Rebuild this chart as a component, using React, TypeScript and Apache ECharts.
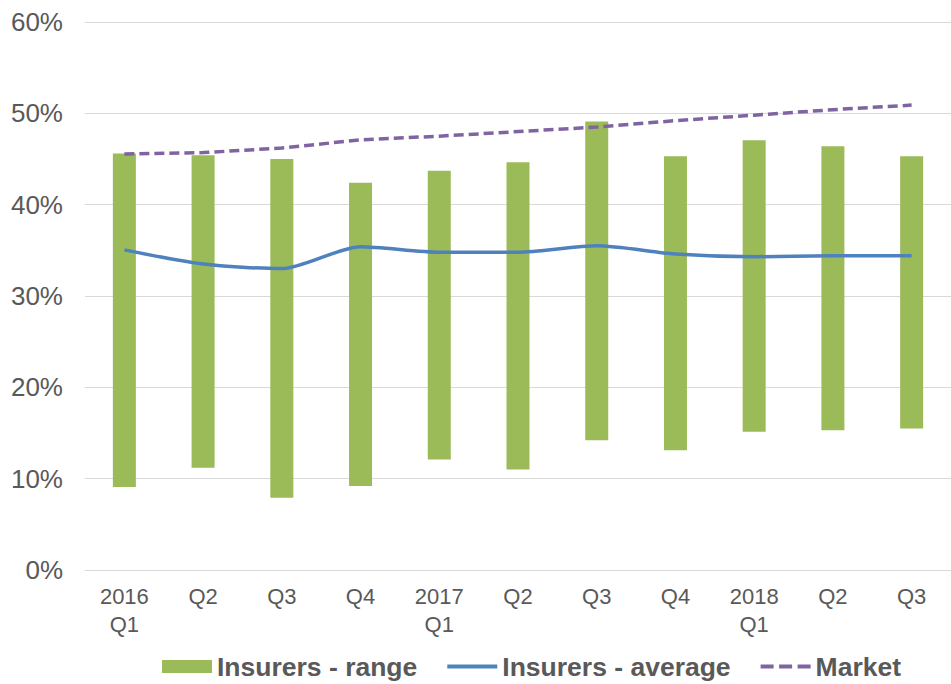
import React, { useEffect, useRef } from "react";
import * as echarts from "echarts";

const categories = ["2016\nQ1", "Q2", "Q3", "Q4", "2017\nQ1", "Q2", "Q3", "Q4", "2018\nQ1", "Q2", "Q3"];
const rangeLow = [9.1, 11.2, 7.9, 9.2, 12.1, 11.0, 14.2, 13.1, 15.15, 15.3, 15.5];
const rangeHigh = [45.6, 45.4, 45.0, 42.4, 43.7, 44.65, 49.1, 45.3, 47.05, 46.4, 45.3];
const average = [35.05, 33.5, 33.0, 35.4, 34.8, 34.8, 35.5, 34.6, 34.3, 34.4, 34.4];
const market = [45.55, 45.7, 46.2, 47.1, 47.5, 48.0, 48.5, 49.2, 49.8, 50.4, 50.9];
const yTicks = { min: 0, max: 60, interval: 10 };

const FONT = "Arial, 'Liberation Sans', sans-serif";
const TEXT = "#595959";

const SOLID_ICON = "path://M0,0H50V4H0Z";
const DASH_ICON = "path://M0,0H13V4H0Z M18.5,0H31.5V4H18.5Z M37,0H50V4H37Z";

export default function App() {
  const ref = useRef<HTMLDivElement>(null);
  useEffect(() => {
    if (!ref.current) return;
    const chart = echarts.init(ref.current, undefined, { renderer: "svg" });
    const span = rangeHigh.map((h, i) => +(h - rangeLow[i]).toFixed(2));
    chart.setOption({
      animation: false,
      backgroundColor: "#ffffff",
      textStyle: { fontFamily: FONT },
      grid: { left: 85, top: 22, width: 877, height: 548, containLabel: false },
      legend: {
        left: 157,
        top: 648,
        itemWidth: 50,
        itemHeight: 13,
        itemGap: 30,
        data: [
          { name: "Insurers - range", icon: "rect" },
          { name: "Insurers - average", icon: SOLID_ICON, itemStyle: { color: "#4F81BD" } },
          { name: "Market", icon: DASH_ICON, itemStyle: { color: "#8064A2" } },
        ],
        textStyle: { fontFamily: FONT, fontSize: 26.5, fontWeight: "bold", color: TEXT },
      },
      xAxis: {
        type: "category",
        data: categories,
        boundaryGap: true,
        axisLine: { lineStyle: { color: "#d9d9d9", width: 1 } },
        axisTick: { show: false },
        axisLabel: {
          color: TEXT,
          fontSize: 22,
          lineHeight: 28,
          margin: 12,
          fontFamily: FONT,
          interval: 0,
        },
      },
      yAxis: {
        type: "value",
        min: yTicks.min,
        max: yTicks.max,
        interval: yTicks.interval,
        axisLine: { show: false },
        axisTick: { show: false },
        splitLine: { lineStyle: { color: "#d9d9d9", width: 1 } },
        axisLabel: {
          formatter: "{value}%",
          color: TEXT,
          fontSize: 26,
          margin: 22,
          fontFamily: FONT,
        },
      },
      series: [
        {
          name: "base",
          type: "bar",
          stack: "range",
          data: rangeLow,
          barWidth: 23,
          itemStyle: { color: "rgba(0,0,0,0)" },
          silent: true,
        },
        {
          name: "Insurers - range",
          type: "bar",
          stack: "range",
          data: span,
          barWidth: 23,
          itemStyle: { color: "#9BBB59" },
        },
        {
          name: "Insurers - average",
          type: "line",
          data: average,
          smooth: 0.25,
          symbol: "none",
          lineStyle: { color: "#4F81BD", width: 3.5 },
          itemStyle: { color: "#4F81BD" },
          z: 5,
        },
        {
          name: "Market",
          type: "line",
          data: market,
          symbol: "none",
          lineStyle: { color: "#8064A2", width: 3.5, type: [10, 5] },
          itemStyle: { color: "#8064A2" },
          z: 6,
        },
      ],
    });
    return () => chart.dispose();
  }, []);
  return (
    <div
      ref={ref}
      style={{ position: "fixed", left: 0, top: 0, width: 951, height: 684, background: "#fff" }}
    />
  );
}
